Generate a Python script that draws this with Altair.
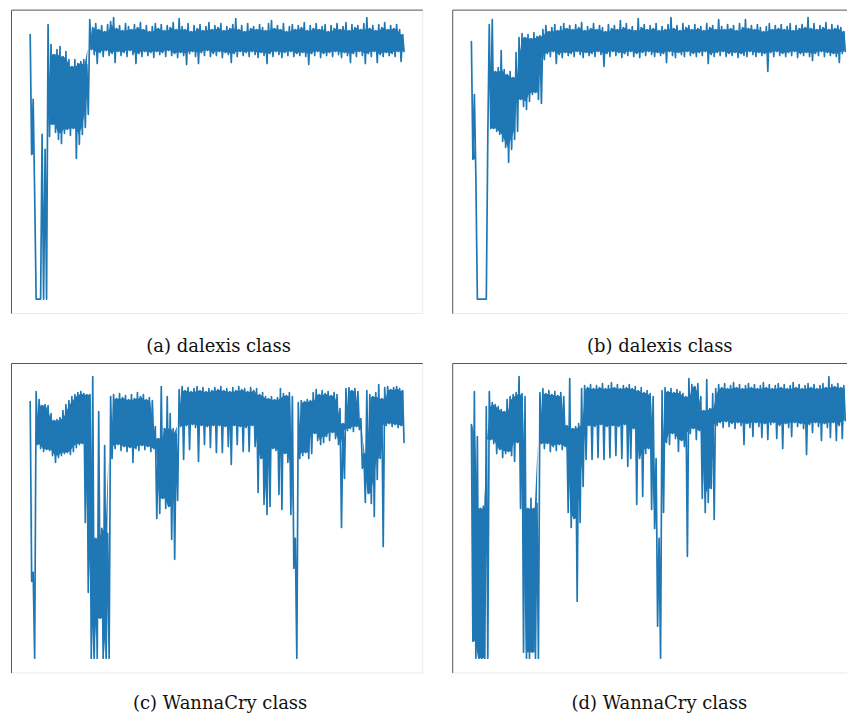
import altair as alt
import pandas as pd

# ---- panel (a): dalexis class (upper / lower stroke value of each column)
A_HI = [265, 200, 0, 0, 165, 150, 275, 255, 245, 250,
        253, 243, 248, 240, 233, 240, 236, 238, 240, 235,
        280,
        272, 276, 270, 274, 268, 275, 278, 282, 271, 274,
        269, 276, 273, 270, 275, 272, 277, 270, 274, 268,
        273, 276, 271, 275, 269, 274, 272, 277, 270, 281,
        273, 270, 276, 268, 274, 271, 275, 269, 273, 277,
        270, 274, 272, 276, 269, 273, 271, 275, 281, 270,
        274, 268, 276, 271, 273, 270, 275, 272, 269, 276,
        279, 271, 274, 270, 276, 268, 273, 275, 270, 274,
        272, 277, 269, 274, 271, 276, 270, 273, 275, 268,
        274, 271, 276, 270, 273, 277, 269, 275, 272, 274,
        270, 276, 282, 271, 274, 269, 275, 272, 277, 270,
        274, 271, 275, 270, 265]
A_LO = [145, 106, 0, 0, 0, 0, 163, 175, 167, 160,
        156, 166, 170, 164, 171, 141, 155, 165, 172, 185,
        250,
        245, 236, 247, 243, 249, 244, 246, 237, 248, 244,
        247, 243, 249, 245, 236, 246, 243, 248, 244, 247,
        242, 248, 245, 247, 243, 249, 244, 246, 242, 247,
        244, 235, 246, 248, 243, 236, 247, 244, 249, 243,
        246, 244, 248, 242, 247, 245, 237, 246, 243, 248,
        244, 247, 243, 248, 245, 242, 247, 244, 236, 246,
        243, 248, 245, 242, 247, 244, 248, 243, 246, 244,
        247, 243, 235, 246, 244, 248, 242, 246, 244, 247,
        243, 248, 245, 242, 247, 244, 237, 246, 243, 248,
        244, 236, 246, 243, 248, 237, 245, 243, 247, 244,
        246, 243, 248, 238, 248]

# ---- panel (b): dalexis class
B_HI = [258, 205, 0, 0, 0, 0, 275, 280, 228, 232,
        249, 230, 225, 228, 222, 247, 262, 266, 262, 265,
        261, 267, 263, 264,
        270, 274, 268, 272, 275, 269, 273, 276, 271, 274,
        270, 275, 272, 277, 269, 273, 271, 276, 270, 274,
        272, 268, 275, 271, 274, 270, 279, 272, 276, 270,
        273, 269, 281, 272, 275, 270, 274, 271, 276, 269,
        273, 270, 275, 282, 271, 274, 269, 276, 272, 274,
        270, 275, 271, 273, 269, 276, 272, 274, 270, 280,
        273, 270, 275, 271, 274, 269, 276, 272, 280, 271,
        274, 270, 275, 272, 268, 273, 276, 270, 274, 271,
        275, 270, 273, 276, 269, 274, 271, 275, 272, 282,
        271, 276, 270, 274, 272, 277, 270, 275, 271, 274,
        272, 268]
B_LO = [140, 123, 0, 0, 0, 161, 171, 171, 168, 165,
        158, 152, 137, 150, 160, 168, 200, 193, 190, 198,
        205, 207, 200, 196,
        240, 246, 243, 248, 236, 245, 242, 247, 244, 246,
        243, 248, 245, 242, 247, 244, 246, 243, 248, 245,
        233, 246, 243, 248, 244, 247, 242, 246, 244, 248,
        243, 246, 242, 247, 244, 248, 245, 243, 247, 244,
        246, 237, 248, 244, 242, 247, 245, 243, 248, 244,
        246, 243, 247, 244, 248, 236, 245, 243, 247, 244,
        248, 243, 246, 244, 247, 242, 246, 244, 243, 248,
        245, 243, 247, 244, 246, 228, 247, 243, 248, 244,
        246, 243, 247, 244, 248, 242, 246, 244, 247, 243,
        239, 246, 244, 248, 243, 247, 244, 246, 243, 237,
        246, 248]

# ---- panel (c): WannaCry class
C_HI = [257, 86, 267, 259, 253, 254, 253, 245, 238, 239,
        241, 248, 254, 258, 262, 264, 266, 267, 265, 264,
        264, 282, 120, 247, 130, 213, 125, 262, 264, 260,
        265, 261, 263, 259, 264, 260, 266, 262, 264, 259,
        261, 258, 232, 220, 272, 230, 262, 245, 230, 225,
        269, 272, 268, 271, 267, 270, 272, 268, 271, 267,
        270, 268, 271, 269, 272, 268, 270, 267, 271, 268,
        272, 269, 270, 267, 271, 268, 270, 264, 266, 262,
        260, 262, 259, 261, 270, 265, 263, 266, 262, 120,
        256, 258, 257, 259, 258, 266, 269, 264, 268, 265,
        267, 263, 266, 264, 250, 235, 270, 271, 268, 270,
        267, 240, 205, 268, 264, 262, 266, 274, 260, 271,
        272, 269, 271, 272, 270, 268]
C_LO = [77, 0, 214, 210, 207, 209, 208, 203, 196, 201,
        203, 205, 206, 204, 207, 211, 214, 215, 136, 66,
        0, 0, 0, 40, 0, 0, 0, 200, 210, 214,
        208, 212, 207, 211, 196, 210, 208, 213, 209, 212,
        207, 210, 140, 145, 160, 150, 152, 119, 99, 158,
        232, 199, 233, 209, 234, 231, 197, 233, 214, 232,
        211, 233, 206, 233, 206, 232, 212, 194, 233, 214,
        232, 207, 231, 207, 233, 212, 166, 200, 154, 144,
        152, 210, 208, 164, 149, 205, 196, 144, 90, 0,
        200, 203, 206, 200, 205, 225, 218, 214, 216, 222,
        218, 226, 220, 214, 131, 180, 228, 230, 227, 232,
        229, 190, 156, 165, 155, 142, 179, 200, 112, 233,
        235, 232, 234, 231, 233, 216]

# ---- panel (d): WannaCry class
D_HI = [234, 267, 222, 150, 152, 252, 267, 256, 254, 252,
        249, 247, 259, 262, 264, 266, 282, 265, 262, 150,
        160, 150, 155, 266, 270, 265, 268, 264, 267, 263,
        266, 262, 233, 280, 230, 232, 235, 270, 273, 271,
        274, 270, 273, 271, 275, 270, 273, 276, 271, 274,
        270, 273, 271, 274, 270, 272, 268, 271, 266, 268,
        265, 262, 200, 120, 268, 271, 267, 270, 266, 269,
        267, 265, 262, 280, 274, 272, 275, 262, 248, 279,
        250, 265, 270, 274, 271, 275, 270, 273, 276, 271,
        274, 270, 273, 275, 271, 274, 270, 273, 276, 271,
        274, 270, 273, 275, 271, 274, 270, 273, 276, 271,
        274, 270, 273, 275, 271, 274, 270, 273, 275, 271,
        282, 274, 272, 275, 271, 273]
D_LO = [17, 0, 0, 0, 0, 0, 219, 215, 205, 209,
        201, 205, 207, 203, 197, 216, 150, 6, 0, 0,
        6, 0, 0, 215, 210, 215, 207, 212, 208, 214,
        209, 212, 146, 131, 140, 57, 136, 172, 199, 233,
        199, 232, 201, 234, 199, 232, 201, 233, 203, 232,
        200, 234, 192, 200, 230, 154, 200, 162, 205, 210,
        149, 130, 32, 0, 146, 216, 214, 225, 220, 207,
        218, 212, 102, 225, 230, 219, 228, 160, 146, 156,
        170, 139, 233, 236, 231, 237, 232, 235, 230, 236,
        233, 214, 235, 231, 222, 236, 232, 221, 235, 219,
        234, 236, 220, 233, 210, 235, 231, 222, 236, 232,
        235, 230, 204, 234, 226, 236, 232, 218, 235, 231,
        221, 236, 218, 233, 220, 238]

CAPTIONS = ["(a) dalexis class", "(b) dalexis class",
            "(c) WannaCry class", "(d) WannaCry class"]

LINE_COLOR = "#1f77b4"
DARK = "#555555"
LIGHT = "#ebebeb"


def zigzag(hi, lo):
    vals = []
    for h, l in zip(hi, lo):
        vals.extend([h, l])
    return pd.DataFrame({"i": list(range(len(vals))), "v": vals})


def columns(hi, lo):
    return pd.DataFrame({"c": [2 * k + 0.5 for k in range(len(hi))],
                         "hi": hi, "lo": lo})


def panel(hi, lo, caption, width, height, ydom, right_border, dx, offset):
    df = zigzag(hi, lo)
    n = len(df) - 1
    per_px = 1.1 * n / 412.0
    x0 = -0.05 * n
    xscale = alt.Scale(domain=[x0, x0 + width * per_px], nice=False, zero=False)
    yscale = alt.Scale(domain=ydom, nice=False, zero=False)
    line = alt.Chart(df).mark_line(
        color=LINE_COLOR, strokeWidth=1.7, strokeJoin="round", strokeCap="round"
    ).encode(
        x=alt.X("i:Q", scale=xscale, axis=None),
        y=alt.Y("v:Q", scale=yscale, axis=None),
    )
    # solid core of the dense band: between neighbouring lows and highs
    core = alt.Chart(columns(hi, lo)).transform_window(
        minhi="min(hi)", maxlo="max(lo)", frame=[-1, 1]
    ).transform_calculate(
        top="max(datum.minhi, datum.maxlo)"
    ).mark_area(color=LINE_COLOR, opacity=1).encode(
        x=alt.X("c:Q", scale=xscale, axis=None),
        y=alt.Y("maxlo:Q", scale=yscale, axis=None),
        y2="top:Q",
    )
    one = pd.DataFrame({"k": [0]})
    layers = [
        alt.Chart(one).mark_rule(color=LIGHT, strokeWidth=1).encode(
            x=alt.value(0), x2=alt.value(width), y=alt.value(height)),
    ]
    if right_border:
        layers.append(alt.Chart(one).mark_rule(color=LIGHT, strokeWidth=1).encode(
            x=alt.value(width), y=alt.value(0), y2=alt.value(height)))
    layers += [
        alt.Chart(one).mark_rule(color=DARK, strokeWidth=1).encode(
            x=alt.value(0), x2=alt.value(width), y=alt.value(0)),
        alt.Chart(one).mark_rule(color=DARK, strokeWidth=1).encode(
            x=alt.value(0), y=alt.value(0), y2=alt.value(height)),
        core,
        line,
    ]
    return alt.layer(*layers).properties(
        width=width, height=height,
        title=alt.TitleParams(
            text=caption, orient="bottom", anchor="middle",
            font="DejaVu Serif", fontSize=18, fontWeight="normal",
            color="#111111", offset=offset, dx=dx,
        ),
    )


ROW1 = [-14.5, 289.5]
ROW2 = [-14.8, 295.2]

pa = panel(A_HI, A_LO, CAPTIONS[0], 412, 304, ROW1, True, 1.5, 24)
pb = panel(B_HI, B_LO, CAPTIONS[1], 395, 304, ROW1, False, 10, 24)
pc = panel(C_HI, C_LO, CAPTIONS[2], 412, 310, ROW2, True, 3, 22)
pd_ = panel(D_HI, D_LO, CAPTIONS[3], 395, 310, ROW2, False, 9.5, 22)

chart = alt.concat(
    pa, pb, pc, pd_, columns=2, spacing={"row": 50, "column": 30},
    bounds="flush", align="each",
).properties(
    padding={"left": 2.5, "top": 0.5, "right": 0, "bottom": 0},
).configure_view(strokeWidth=0)

chart.save("out.html", embed_options={"renderer": "svg", "actions": False})
